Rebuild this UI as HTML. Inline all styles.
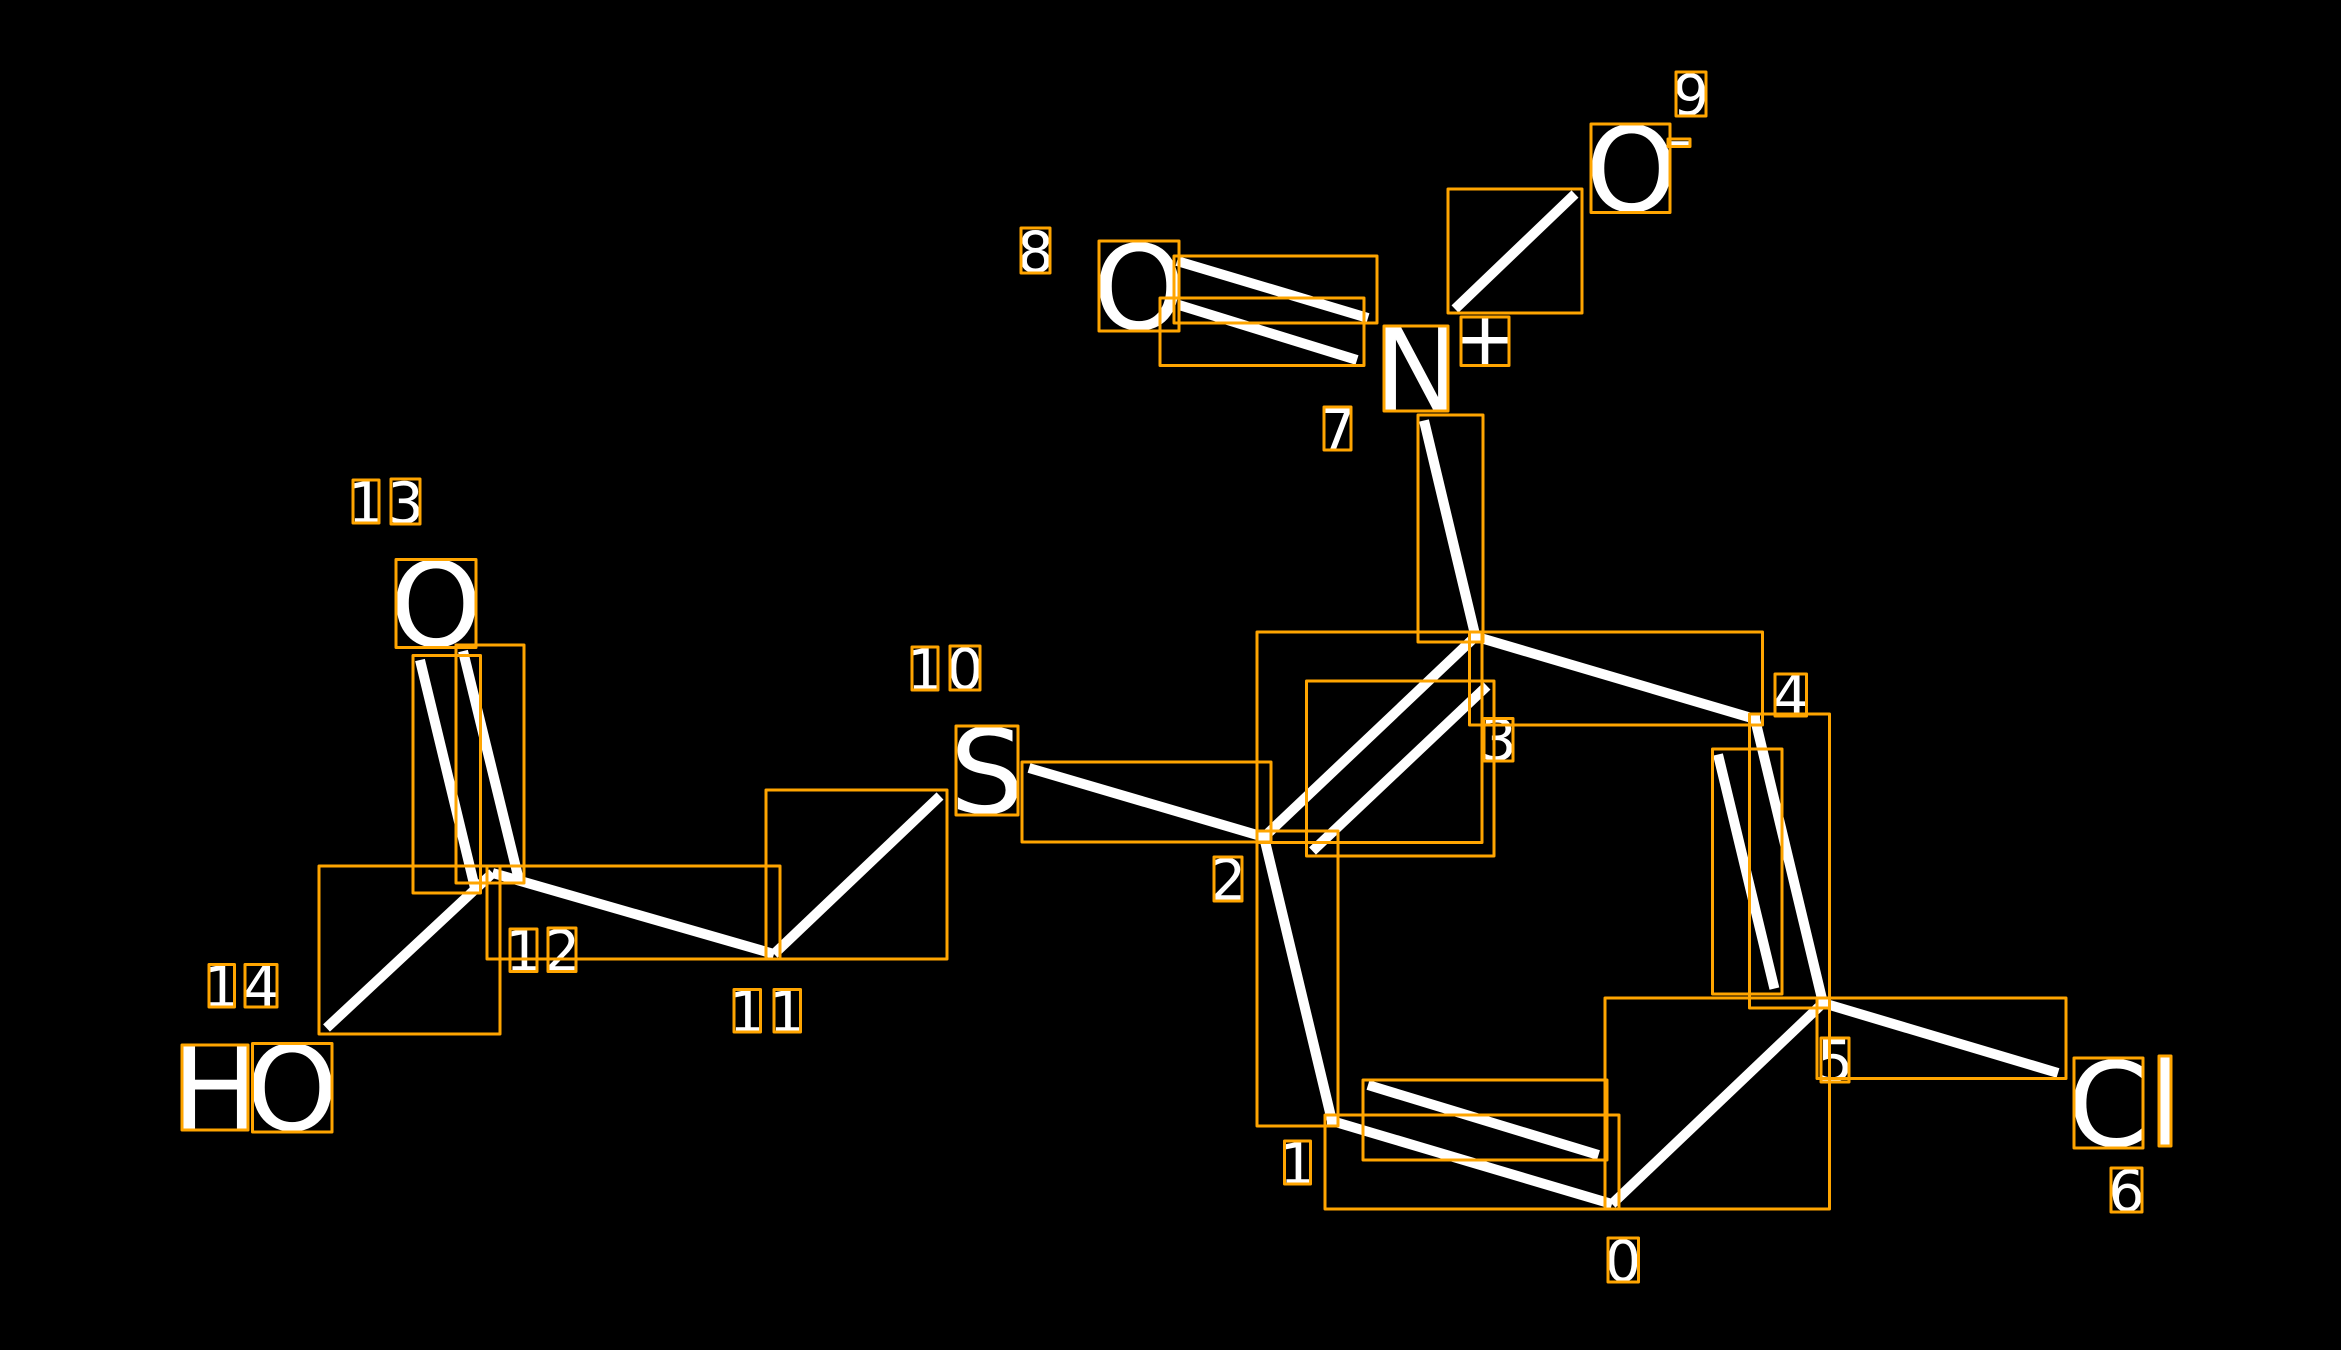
<!DOCTYPE html>
<html><head><meta charset="utf-8"><style>
html,body{margin:0;padding:0;background:#000;width:2341px;height:1350px;overflow:hidden}
svg{display:block}
text{font-family:"DejaVu Sans",sans-serif;fill:#fff;text-anchor:middle}
.a{font-size:117px}.d{font-size:57px}.c{font-size:78px}
.b line{stroke:#fff;stroke-width:10}
.r rect{fill:none;stroke:#ffa500;stroke-width:3;stroke-linejoin:round}
</style></head><body>
<svg width="2341" height="1350" viewBox="0 0 2341 1350" xmlns="http://www.w3.org/2000/svg">
<rect width="2341" height="1350" fill="#000"/>
<g class="b">
<line x1="1612" y1="1204" x2="1332" y2="1121"/>
<line x1="1598.5" y1="1155" x2="1368" y2="1085"/>
<line x1="1332" y1="1121" x2="1264" y2="837"/>
<line x1="1264" y1="837" x2="1475.5" y2="636.5"/>
<line x1="1312.5" y1="851" x2="1487" y2="686"/>
<line x1="1475.5" y1="636.5" x2="1755" y2="719"/>
<line x1="1755" y1="719" x2="1823" y2="1003"/>
<line x1="1718" y1="754.5" x2="1774.4" y2="988.6"/>
<line x1="1823" y1="1003" x2="1612" y2="1204"/>
<line x1="1823" y1="1003" x2="2058" y2="1073"/>
<line x1="1475.5" y1="636.5" x2="1424" y2="420.5"/>
<line x1="1368" y1="318" x2="1177" y2="261"/>
<line x1="1357" y1="360" x2="1179" y2="305"/>
<line x1="1455" y1="309" x2="1575" y2="194"/>
<line x1="1264" y1="837" x2="1029" y2="768"/>
<line x1="940" y1="796" x2="774" y2="954"/>
<line x1="774" y1="954" x2="492.6" y2="873"/>
<line x1="518.5" y1="878" x2="463" y2="651"/>
<line x1="475" y1="888" x2="420" y2="660"/>
<line x1="492.6" y1="873" x2="326.5" y2="1028"/>
</g>
<g fill="#fff">
<rect x="1259" y="832" width="10" height="10"/>
<rect x="1470.5" y="631.5" width="10" height="10"/>
<rect x="1750" y="714" width="10" height="10"/>
<rect x="1818" y="998" width="10" height="10"/>
<rect x="1327" y="1116" width="10" height="10"/>
</g>
<text class="a" x="1139" y="329">O</text>
<text class="a" x="1417" y="411">N</text>
<text class="a" x="1631.5" y="211">O</text>
<text class="c" x="1485" y="365">+</text>
<text class="c" x="1679" y="166">-</text>
<text class="a" x="987" y="813">S</text>
<text class="a" x="2108.5" y="1146">C</text>
<text class="a" x="2165" y="1146">l</text>
<text class="a" x="436" y="646">O</text>
<text class="a" x="216" y="1130">H</text>
<text class="a" x="292" y="1130">O</text>
<text class="d" x="1623" y="1281">0</text>
<text class="d" x="1297.5" y="1184">1</text>
<text class="d" x="1228" y="900">2</text>
<text class="d" x="1498.5" y="760">3</text>
<text class="d" x="1790.5" y="716">4</text>
<text class="d" x="1835" y="1081">5</text>
<text class="d" x="2126.5" y="1211">6</text>
<text class="d" x="1337.5" y="450">7</text>
<text class="d" x="1035.5" y="272">8</text>
<text class="d" x="1691" y="115">9</text>
<text class="d" x="925" y="690">1</text>
<text class="d" x="965" y="689">0</text>
<text class="d" x="747" y="1032">1</text>
<text class="d" x="787" y="1032">1</text>
<text class="d" x="523.5" y="971">1</text>
<text class="d" x="562" y="971">2</text>
<text class="d" x="366" y="523">1</text>
<text class="d" x="405.5" y="523">3</text>
<text class="d" x="221.5" y="1007">1</text>
<text class="d" x="261" y="1007">4</text>
<g class="r">
<rect x="1676" y="72" width="30" height="44"/>
<rect x="1591" y="124" width="79" height="88.5"/>
<rect x="1668" y="139" width="22" height="7.5"/>
<rect x="1448" y="189" width="134" height="124"/>
<rect x="1099" y="241" width="80" height="90"/>
<rect x="1021" y="228" width="29" height="45"/>
<rect x="1174" y="256" width="203" height="67"/>
<rect x="1160" y="298" width="204" height="67.5"/>
<rect x="1384" y="326" width="64" height="85"/>
<rect x="1461" y="317" width="48" height="48.5"/>
<rect x="1324" y="407" width="27" height="43"/>
<rect x="1418" y="415" width="65" height="227"/>
<rect x="1257" y="632" width="225" height="210.5"/>
<rect x="1306.5" y="681" width="187.5" height="175"/>
<rect x="1469.5" y="632" width="293" height="93"/>
<rect x="1775" y="674" width="31.5" height="42"/>
<rect x="1484" y="718.5" width="29" height="42.5"/>
<rect x="1749.5" y="714" width="80" height="294"/>
<rect x="1712.5" y="749" width="69.5" height="245"/>
<rect x="1605" y="998" width="224.5" height="211"/>
<rect x="1325" y="1115" width="294" height="94"/>
<rect x="1363" y="1080" width="244" height="80"/>
<rect x="1284.5" y="1141" width="26" height="43"/>
<rect x="1608" y="1238" width="30.5" height="44"/>
<rect x="1821" y="1038" width="28" height="44"/>
<rect x="1817" y="998" width="249" height="80.5"/>
<rect x="2074" y="1058" width="69" height="90"/>
<rect x="2159" y="1056" width="12" height="90"/>
<rect x="2111" y="1168" width="31" height="44"/>
<rect x="1214" y="857" width="28" height="44"/>
<rect x="1257" y="831" width="81" height="295"/>
<rect x="1022" y="762" width="249" height="80"/>
<rect x="956" y="726" width="62" height="89"/>
<rect x="912" y="647" width="26" height="43"/>
<rect x="950" y="646" width="30" height="44"/>
<rect x="766" y="790" width="181" height="169"/>
<rect x="487" y="866" width="293" height="93"/>
<rect x="319" y="866" width="181" height="168"/>
<rect x="413" y="655.5" width="67.5" height="237.5"/>
<rect x="456" y="645" width="68" height="238"/>
<rect x="396" y="559.5" width="80" height="88"/>
<rect x="353" y="480" width="26" height="43"/>
<rect x="391" y="479" width="29" height="45"/>
<rect x="510" y="929" width="27" height="42.5"/>
<rect x="548" y="928" width="28" height="43.5"/>
<rect x="209" y="964.5" width="25.5" height="42.5"/>
<rect x="245" y="964.5" width="32" height="42.5"/>
<rect x="734" y="989.5" width="26.5" height="42.5"/>
<rect x="774" y="989.5" width="26.5" height="42.5"/>
<rect x="182" y="1045" width="66" height="85"/>
<rect x="252.5" y="1043.5" width="79.5" height="88.5"/>
</g>
</svg>
</body></html>
